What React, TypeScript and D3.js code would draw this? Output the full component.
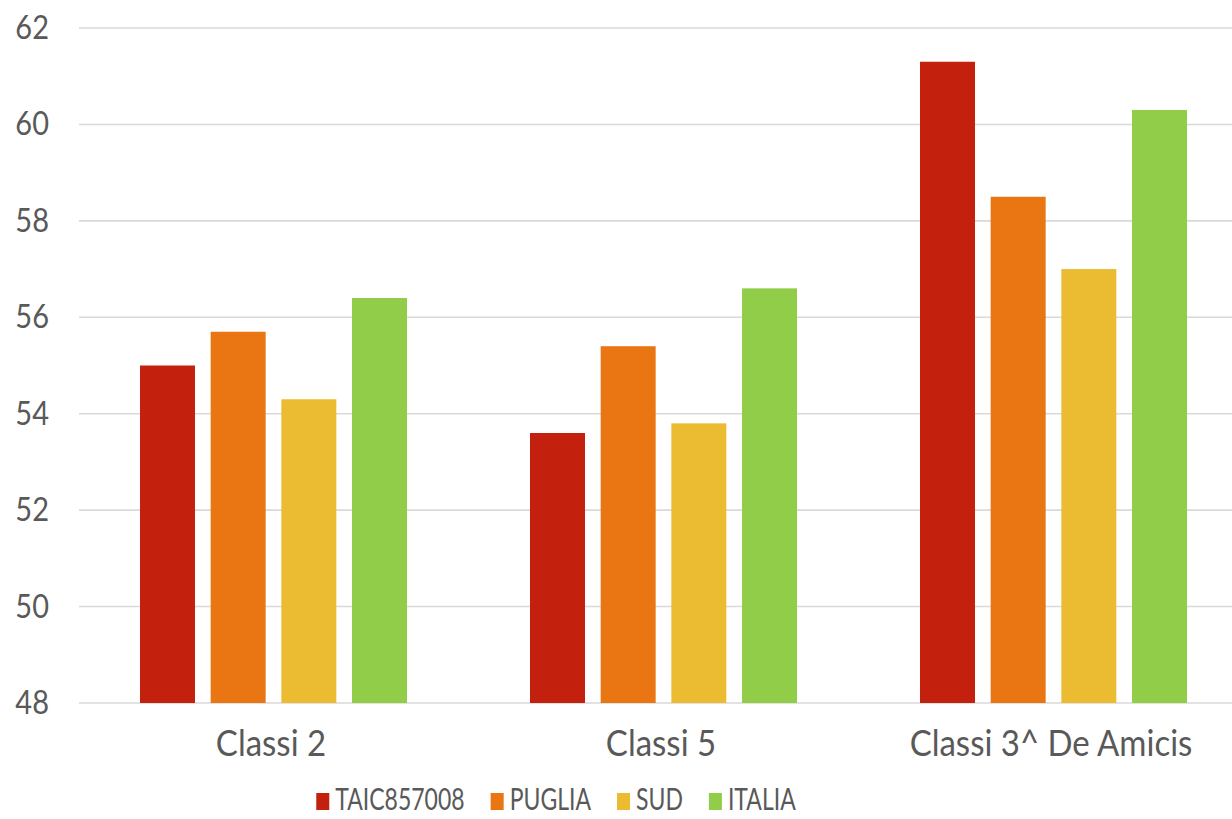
import React, { useEffect, useRef } from "react";
import * as d3 from "d3";

const categories = ["Classi 2", "Classi 5", "Classi 3^ De Amicis"];
const seriesNames = ["TAIC857008", "PUGLIA", "SUD", "ITALIA"];
const seriesColors = ["#C3200E", "#E97513", "#EBBC32", "#92CD4A"];
const taicValues = [55.0, 53.6, 61.3];
const pugliaValues = [55.7, 55.4, 58.5];
const sudValues = [54.3, 53.8, 57.0];
const italiaValues = [56.4, 56.6, 60.3];
const yTicks = [48, 50, 52, 54, 56, 58, 60, 62];

const W = 1232;
const H = 819;
const FONT = "Lato, 'Noto Sans', sans-serif";
const TEXT = "#595959";

export default function App() {
  const ref = useRef<SVGSVGElement | null>(null);

  useEffect(() => {
    const svg = d3.select(ref.current);
    svg.selectAll("*").remove();

    const values = [taicValues, pugliaValues, sudValues, italiaValues];

    const x0 = d3.scaleBand<string>().domain(categories).range([79, 1249]).padding(0);
    const x1 = d3
      .scaleBand<string>()
      .domain(seriesNames)
      .range([61, x0.bandwidth() - 62])
      .paddingInner(0.222)
      .paddingOuter(0);
    const y = d3.scaleLinear().domain([48, 62]).range([703, 28]);

    // horizontal gridlines
    svg
      .append("g")
      .selectAll("line")
      .data(yTicks)
      .join("line")
      .attr("x1", 79)
      .attr("x2", W)
      .attr("y1", (d) => y(d))
      .attr("y2", (d) => y(d))
      .attr("stroke", "#D9D9D9")
      .attr("stroke-width", 1.6);

    // y tick labels
    svg
      .append("g")
      .selectAll("text")
      .data(yTicks)
      .join("text")
      .attr("transform", (d) => `translate(49,${y(d) + 11}) scale(1,1.1)`)
      .attr("text-anchor", "end")
      .attr("font-family", FONT)
      .attr("font-size", 29)
      .attr("fill", TEXT)
      .text((d) => String(d));

    // bars
    const groups = svg
      .append("g")
      .selectAll("g")
      .data(categories)
      .join("g")
      .attr("transform", (d) => `translate(${x0(d)},0)`);

    groups
      .selectAll("rect")
      .data((_, ci) => seriesNames.map((s, si) => ({ s, si, v: values[si][ci] })))
      .join("rect")
      .attr("x", (d) => x1(d.s)!)
      .attr("width", x1.bandwidth())
      .attr("y", (d) => y(d.v))
      .attr("height", (d) => y(48) - y(d.v))
      .attr("fill", (d) => seriesColors[d.si]);

    // category labels
    svg
      .append("g")
      .selectAll("text")
      .data(categories)
      .join("text")
      .attr("transform", (d) => `translate(${x0(d)! + x0.bandwidth() / 2 - 3},756) scale(1,1.1)`)
      .attr("text-anchor", "middle")
      .attr("font-family", FONT)
      .attr("font-size", 33)
      .attr("fill", TEXT)
      .text((d) => d);

    // legend, laid out from measured label widths and centred
    const legend = svg.append("g");
    const sw = 13;
    const gapText = 6;
    const gapItem = 26;
    const items = seriesNames.map((name, i) => {
      const g = legend.append("g");
      g.append("rect")
        .attr("y", 793)
        .attr("width", sw)
        .attr("height", 17)
        .attr("fill", seriesColors[i]);
      const t = g
        .append("text")
        .attr("font-family", FONT)
        .attr("font-size", 23)
        .attr("fill", TEXT)
        .text(name);
      const w = (t.node() as SVGTextElement).getComputedTextLength();
      return { g, t, w };
    });
    const total =
      items.reduce((a, it) => a + sw + gapText + it.w, 0) + gapItem * (items.length - 1);
    let cx = 556 - total / 2;
    items.forEach((it) => {
      it.g.attr("transform", `translate(${cx},0)`);
      it.t.attr("transform", `translate(${sw + gapText},810) scale(1,1.34)`);
      cx += sw + gapText + it.w + gapItem;
    });
  }, []);

  return (
    <svg
      ref={ref}
      width={W}
      height={H}
      style={{ position: "absolute", left: 0, top: 0, background: "#fff" }}
    />
  );
}
